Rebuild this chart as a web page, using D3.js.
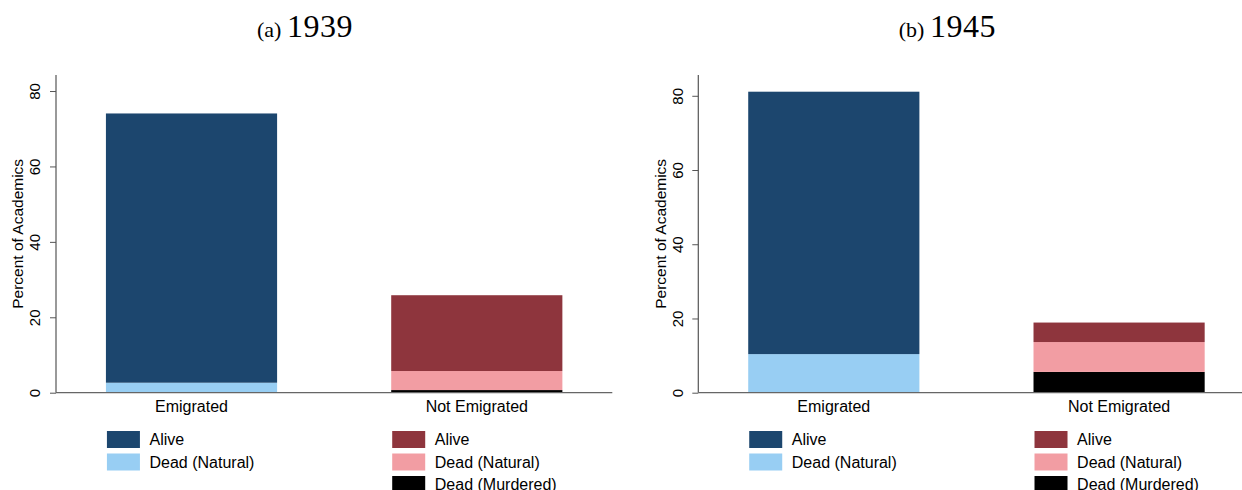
<!DOCTYPE html>
<html>
<head>
<meta charset="utf-8">
<script src="https://cdn.jsdelivr.net/npm/d3@7"></script>
<style>
  body { margin: 0; background: #fff; }
  svg { display: block; }
  text { font-family: "Liberation Sans", Arial, sans-serif; fill: #000; }
  text.title { font-family: "Liberation Serif", "Times New Roman", serif; }
</style>
</head>
<body>
<div id="chart"></div>
<script>
// categories and series (percent of academics)
const categories = ["Emigrated", "Not Emigrated"];
const panelLetters = ["(a)", "(b)"];
const panelYears = ["1939", "1945"];
const seriesKeys = ["murdered", "natural", "alive"];   // bottom -> top
const seriesLabels = { alive: "Alive", natural: "Dead (Natural)", murdered: "Dead (Murdered)" };

const alive1939 = [71.4, 20.1];
const natural1939 = [2.65, 5.05];
const murdered1939 = [0, 0.7];

const alive1945 = [70.7, 5.25];
const natural1945 = [10.4, 8.05];
const murdered1945 = [0, 5.6];

const yTicks = [0, 20, 40, 60, 80];
const yMax = [84.25, 85.6];

// colours per category group
const palette = {
    "Emigrated": { alive: "#1c466e", natural: "#98cef3" },
    "Not Emigrated": { alive: "#8e353d", natural: "#f29da3", murdered: "#000000" }
};
const legendKeys = {
    "Emigrated": ["alive", "natural"],
    "Not Emigrated": ["alive", "natural", "murdered"]
};

const panels = [
    { alive: alive1939, natural: natural1939, murdered: murdered1939 },
    { alive: alive1945, natural: natural1945, murdered: murdered1945 }
];

const width = 1242, height = 490;
const svg = d3.select("#chart").append("svg")
    .attr("width", width)
    .attr("height", height);

const panelOffset = 642.3;
const plotLeft = 56, plotRight = 612.3;
const plotTop = 75, plotBottom = 392.7;
const titleX = 305;

panels.forEach((p, pi) => {
    const g = svg.append("g")
        .attr("transform", `translate(${pi * panelOffset},0)`);

    const rows = categories.map((c, i) => ({
        category: c,
        alive: p.alive[i],
        natural: p.natural[i],
        murdered: p.murdered[i]
    }));

    const x = d3.scaleBand()
        .domain(categories)
        .range([plotLeft, plotRight])
        .paddingInner(0.4)
        .paddingOuter(0.175);

    const y = d3.scaleLinear()
        .domain([0, yMax[pi]])
        .range([plotBottom, plotTop]);

    const stacked = d3.stack().keys(seriesKeys)(rows);

    // title
    const title = g.append("text")
        .attr("class", "title")
        .attr("x", titleX)
        .attr("y", 37)
        .attr("text-anchor", "middle");
    title.append("tspan")
        .style("font-size", "22px")
        .text(panelLetters[pi] + " ");
    title.append("tspan")
        .style("font-size", "32px")
        .style("letter-spacing", "0.5px")
        .text(panelYears[pi]);

    // bars
    stacked.forEach(layer => {
        g.selectAll(null)
            .data(layer.filter(d => d[1] - d[0] > 0))
            .enter()
            .append("rect")
            .attr("x", d => x(d.data.category))
            .attr("width", x.bandwidth())
            .attr("y", d => y(d[1]))
            .attr("height", d => y(d[0]) - y(d[1]))
            .attr("fill", d => palette[d.data.category][layer.key]);
    });

    // y axis
    const yAxis = g.append("g")
        .attr("transform", `translate(${plotLeft},0)`)
        .call(d3.axisLeft(y).tickValues(yTicks).tickSize(6).tickSizeOuter(0));
    yAxis.select(".domain").remove();
    yAxis.selectAll(".tick line").attr("stroke", "#555");
    yAxis.selectAll(".tick text")
        .attr("x", null)
        .attr("transform", "translate(-21,0) rotate(-90)")
        .attr("dy", "0.35em")
        .attr("text-anchor", "middle")
        .style("font-size", "15px")
        .style("font-family", "'Liberation Sans', Arial, sans-serif")
        .attr("fill", "#000");

    g.append("line")
        .attr("x1", plotLeft).attr("x2", plotLeft)
        .attr("y1", plotTop).attr("y2", plotBottom)
        .attr("stroke", "#555").attr("stroke-width", 1.2);

    // x axis
    g.append("line")
        .attr("x1", plotLeft).attr("x2", plotRight)
        .attr("y1", plotBottom).attr("y2", plotBottom)
        .attr("stroke", "#666").attr("stroke-width", 1.2);

    g.selectAll(null)
        .data(categories)
        .enter()
        .append("text")
        .attr("x", d => x(d) + x.bandwidth() / 2)
        .attr("y", 412)
        .attr("text-anchor", "middle")
        .style("font-size", "16px")
        .text(d => d);

    // y axis title
    g.append("text")
        .attr("transform", `translate(${plotLeft - 38},${(plotTop + plotBottom) / 2}) rotate(-90)`)
        .attr("dy", "0.35em")
        .attr("text-anchor", "middle")
        .style("font-size", "15.5px")
        .text("Percent of Academics");

    // legends, one column under each bar
    categories.forEach(c => {
        const lx = x(c) + 1;
        const items = legendKeys[c];
        const lg = g.append("g").attr("transform", `translate(${lx},431)`);
        items.forEach((k, ki) => {
            const ly = ki * 22.5;
            lg.append("rect")
                .attr("x", 0).attr("y", ly)
                .attr("width", 33).attr("height", 17)
                .attr("fill", palette[c][k]);
            lg.append("text")
                .attr("x", 42.6)
                .attr("y", ly + 14)
                .style("font-size", "16px")
                .text(seriesLabels[k]);
        });
    });
});
</script>
</body>
</html>
